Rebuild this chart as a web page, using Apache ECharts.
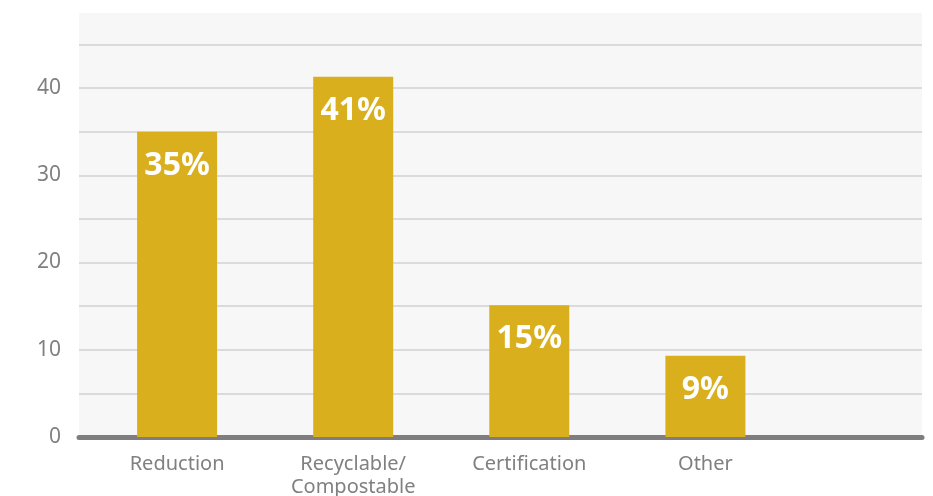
<!DOCTYPE html>
<html>
<head>
<meta charset="utf-8">
<script src="https://cdn.jsdelivr.net/npm/echarts@6/dist/echarts.min.js"></script>
<style>html,body{margin:0;padding:0;background:#fff;}#c{width:933px;height:496px;}</style>
</head>
<body>
<div id="c"></div>
<script>
const categories = ['Reduction', 'Recyclable/\nCompostable', 'Certification', 'Other'];
const values = [35, 41.3, 15.1, 9.3];
const yTicks = [0, 10, 20, 30, 40];

const chart = echarts.init(document.getElementById('c'), null, {renderer: 'canvas'});
const font = 'Noto Sans';
chart.setOption({
  animation: false,
  grid: {left: 79, right: 11, top: 13, bottom: 59, show: true, backgroundColor: '#f7f7f7', borderWidth: 0,
         outerBoundsMode: 'none', containLabel: false},
  xAxis: {
    type: 'value', min: -0.557, max: 4.23, position: 'bottom',
    splitLine: {show: false},
    axisTick: {show: false},
    axisLine: {show: true, onZero: true, lineStyle: {color: '#807d7f', width: 5}},
    axisLabel: {
      customValues: categories.map((c, i) => i),
      formatter: v => categories[Math.round(v)] || '',
      color: '#808080', fontFamily: font, fontSize: 20, lineHeight: 23, margin: 16
    }
  },
  yAxis: {
    type: 'value', min: 0, max: 48.6, interval: 5,
    axisLine: {show: false}, axisTick: {show: false},
    splitLine: {show: true, showMaxLine: false, lineStyle: {color: '#d2d2d2', width: 1.5}},
    axisLabel: {
      formatter: v => yTicks.indexOf(v) >= 0 ? String(v) : '',
      color: '#808080', fontFamily: font, fontSize: 21, margin: 18
    }
  },
  series: [{
    type: 'bar', barWidth: 80,
    data: values.map((v, i) => [i, v]),
    itemStyle: {color: '#d9af1e'},
    label: {
      show: true, position: 'insideTop', distance: 18,
      formatter: p => Math.round(p.value[1]) + '%',
      color: '#ffffff', fontFamily: font, fontWeight: 'bold', fontSize: 32
    }
  }]
});
</script>
</body>
</html>
